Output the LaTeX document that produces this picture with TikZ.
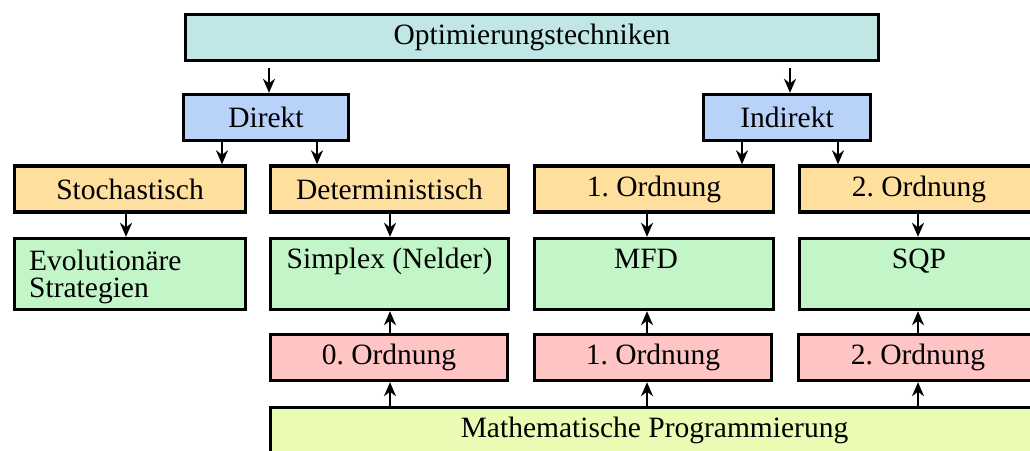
\documentclass[tikz,border=0pt]{standalone}
\usepackage{fontspec}
\setmainfont{Liberation Serif}
\usetikzlibrary{arrows.meta}

\definecolor{cTop}{HTML}{C0E6E6}
\definecolor{cMid}{HTML}{B8D2FA}
\definecolor{cOra}{HTML}{FFDF9E}
\definecolor{cGre}{HTML}{C2F5C8}
\definecolor{cPin}{HTML}{FFC4C4}
\definecolor{cYel}{HTML}{EAFCB3}

\tikzset{
  box/.style={rectangle, draw=black, line width=3.4pt, inner sep=0pt,
              font=\fontsize{29.5}{32}\selectfont},
  lab/.style={inner sep=0pt, font=\fontsize{29.5}{27}\selectfont},
  arr/.style={-{Stealth[length=14pt,width=12pt,inset=4.5pt]}, line width=2.6pt},
  row/.style={minimum height=46pt},
  tall/.style={minimum height=71pt},
}

\begin{document}
\frenchspacing
\begin{tikzpicture}[x=1pt,y=-1pt]
\useasboundingbox (0,0) rectangle (1030,450);

% top level
\node[box, fill=cTop, minimum width=693pt, row] (top) at (532,37.5) {Optimierungstechniken};

% direct / indirect
\node[box, fill=cMid, minimum width=165pt, row] (dir) at (266,117.5) {Direkt};
\node[box, fill=cMid, minimum width=167pt, row] (ind) at (787,117.5) {Indirekt};

% classes
\node[box, fill=cOra, minimum width=231pt, row] (sto) at (130,189) {Stochastisch};
\node[box, fill=cOra, minimum width=238pt, row] (det) at (389.5,189) {Deterministisch};
\node[box, fill=cOra, minimum width=239pt, row] (oa) at (654,189) {1. Ordnung};
\node[box, fill=cOra, minimum width=239pt, row] (ob) at (919,189) {2. Ordnung};

% methods
\node[box, fill=cGre, minimum width=231pt, tall,
  label={[lab, align=left, anchor=north west, xshift=-101pt, yshift=-13pt]north:Evolutionäre\\Strategien}] (evo) at (130,274) {};
\node[box, fill=cGre, minimum width=238pt, tall,
  label={[lab, anchor=base, yshift=-31.5pt]north:Simplex (Nelder)}] (sim) at (389.5,274) {};
\node[box, fill=cGre, minimum width=239pt, tall,
  label={[lab, anchor=base, xshift=-8pt, yshift=-31.5pt]north:MFD}] (mfd) at (654,274) {};
\node[box, fill=cGre, minimum width=239pt, tall,
  label={[lab, anchor=base, yshift=-31.5pt]north:SQP}] (sqp) at (919,274) {};

% orders of the mathematical programming
\node[box, fill=cPin, minimum width=237pt, row] (pa) at (389,357.5) {0. Ordnung};
\node[box, fill=cPin, minimum width=237pt, row] (pb) at (653,357.5) {1. Ordnung};
\node[box, fill=cPin, minimum width=239pt, row] (pc) at (918,357.5) {2. Ordnung};

% base
\node[box, fill=cYel, minimum width=768pt, row] (mp) at (654.5,430.5) {Mathematische Programmierung};

% connector columns
\coordinate (t1) at (269,0);
\coordinate (t2) at (790,0);
\coordinate (d1) at (222,0);
\coordinate (d2) at (317,0);
\coordinate (i1) at (742,0);
\coordinate (i2) at (838,0);
\coordinate (k0) at (126,0);
\coordinate (k1) at (390,0);
\coordinate (k2) at (647,0);
\coordinate (k3) at (918,0);

% top-down connectors
\draw[arr, shorten <=6pt] (top.south -| t1) -- (dir.north -| t1);
\draw[arr, shorten <=6pt] (top.south -| t2) -- (ind.north -| t2);
\draw[arr] (dir.south -| d1) -- (sto.north -| d1);
\draw[arr] (dir.south -| d2) -- (det.north -| d2);
\draw[arr] (ind.south -| i1) -- (oa.north -| i1);
\draw[arr] (ind.south -| i2) -- (ob.north -| i2);
\draw[arr] (sto.south -| k0) -- (evo.north -| k0);
\draw[arr] (det.south -| k1) -- (sim.north -| k1);
\draw[arr] (oa.south -| k2) -- (mfd.north -| k2);
\draw[arr] (ob.south -| k3) -- (sqp.north -| k3);

% bottom-up connectors
\draw[arr] (mp.north -| k1) -- (pa.south -| k1);
\draw[arr] (mp.north -| k2) -- (pb.south -| k2);
\draw[arr] (mp.north -| k3) -- (pc.south -| k3);
\draw[arr] (pa.north -| k1) -- (sim.south -| k1);
\draw[arr] (pb.north -| k2) -- (mfd.south -| k2);
\draw[arr] (pc.north -| k3) -- (sqp.south -| k3);
\end{tikzpicture}
\end{document}
